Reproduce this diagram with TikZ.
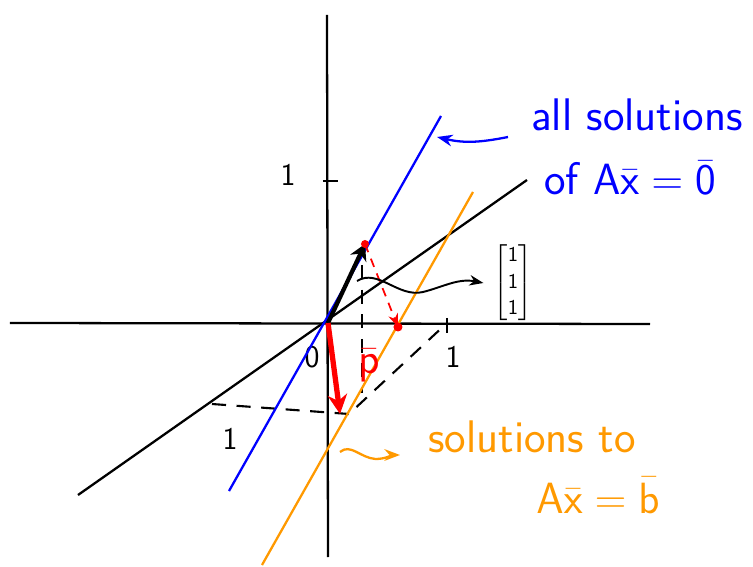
\documentclass[tikz,border=0pt]{standalone}
\usepackage{amsmath}
\usepackage{xcolor}
\usepackage{tikz}
\usetikzlibrary{arrows.meta, positioning, calc}
\definecolor{nullblue}{RGB}{0, 0, 255}
\definecolor{solorange}{RGB}{255, 153, 0}
\definecolor{projred}{RGB}{255, 0, 0}

\begin{document}
\begin{tikzpicture}[
    axis/.style={line width=1.3pt, black},
    guide/.style={line width=1.2pt, black, dash pattern=on 8pt off 6pt},
    solline/.style={line width=1.3pt},
    hand/.style={font=\sffamily\fontsize{26}{28}\selectfont, inner sep=0pt},
    num/.style={font=\sffamily\fontsize{18}{20}\selectfont, inner sep=0pt},
    >=Stealth
  ]
  \useasboundingbox (-6.56,-4.88) rectangle (8.5,6.46);

  % points
  \coordinate (o) at (0, 0);
  \coordinate (xl) at (-6.36, 0);
  \coordinate (xr) at (6.44, -0.02);
  \coordinate (yt) at (-0.02, 6.16);
  \coordinate (yb) at (0, -4.68);
  \coordinate (zl) at (-5.0, -3.44);
  \coordinate (zr) at (3.98, 2.86);
  \coordinate (zone) at (-2.32, -1.62);
  \coordinate (xone) at (2.38, 0);
  \coordinate (corner) at (0.42, -1.82);
  \coordinate (tip) at (0.74, 1.58);
  \coordinate (foot) at (1.4, -0.08);
  \coordinate (rtip) at (0.24, -1.82);

  % axes
  \draw[axis] (xl) -- (xr);
  \draw[axis] (yt) -- (yb);
  \draw[axis] (zl) -- (zr);
  \draw[axis] (-0.1, 2.84) -- (0.2, 2.84);
  \draw[axis] ($(xone)+(0,0.1)$) -- ($(xone)+(0,-0.2)$);
  \node[num] (ylab) at (-0.8, 2.96) {1};
  \node[num] (xlab) at (2.5, -0.68) {1};
  \node[num] (zlab) at (-1.96, -2.32) {1};
  \node[num] (olab) at (-0.32, -0.68) {0};

  % box
  \draw[guide] (zone) -- (corner) -- (xone);
  \draw[guide] (0.68, 1.16) -- (0.68, -1.4);

  % solution lines
  \draw[solline, nullblue] (-1.98, -3.36) -- (2.26, 4.14);
  \draw[solline, solorange] (-1.32, -4.84) -- (2.9, 2.62);

  % vectors
  \draw[line width=2.4pt, black, -{Stealth[length=9pt, width=10pt]}] (o) -- (tip);
  \draw[line width=3pt, projred, -{Stealth[length=11pt, width=11pt]}] (o) -- (rtip);
  \draw[->, projred, line width=1pt, dash pattern=on 5pt off 4pt] (tip) -- (foot);
  \fill[projred] (tip) circle (0.08);
  \fill[projred] (foot) circle (0.09);
  \node[font=\fontsize{24}{26}\selectfont, projred, inner sep=0pt] (plab) at (0.82, -0.86) {$\bar{\mathsf{p}}$};

  % labels
  \node[font=\fontsize{13}{15}\selectfont, inner sep=0pt] (vec) at (3.7, 0.8) {$\begin{bmatrix}\mathsf{1}\\\mathsf{1}\\\mathsf{1}\end{bmatrix}$};
  \draw[->, line width=1.1pt] (0.58, 0.84) .. controls (1.0, 1.1) and (1.4, 0.5) .. (1.9, 0.62) .. controls (2.3, 0.72) and (2.6, 0.9) .. ($(vec.west)+(-0.2,0)$);

  \node[hand, nullblue] (alltxt) at (6.18, 4.16) {all solutions};
  \node[hand, nullblue] (oftxt) at (6.04, 2.9) {of $\mathsf{A}\bar{\mathsf{x}}=\bar{\mathsf{0}}$};
  \coordinate (bstart) at (3.6, 3.72);
  \draw[->, nullblue, line width=1.3pt] (bstart) .. controls (3.0, 3.6) and (2.7, 3.6) .. (2.18, 3.72);

  \node[hand, solorange] (soltxt) at (4.08, -2.28) {solutions to};
  \node[hand, solorange] (btxt) at (5.4, -3.44) {$\mathsf{A}\bar{\mathsf{x}}=\bar{\mathsf{b}}$};
  \coordinate (ostart) at (0.24, -2.58);
  \draw[->, solorange, line width=1.3pt] (ostart) .. controls (0.45, -2.4) and (0.65, -2.7) .. (0.95, -2.72) .. controls (1.15, -2.72) and (1.3, -2.64) .. (1.44, -2.64);

\end{tikzpicture}
\end{document}
